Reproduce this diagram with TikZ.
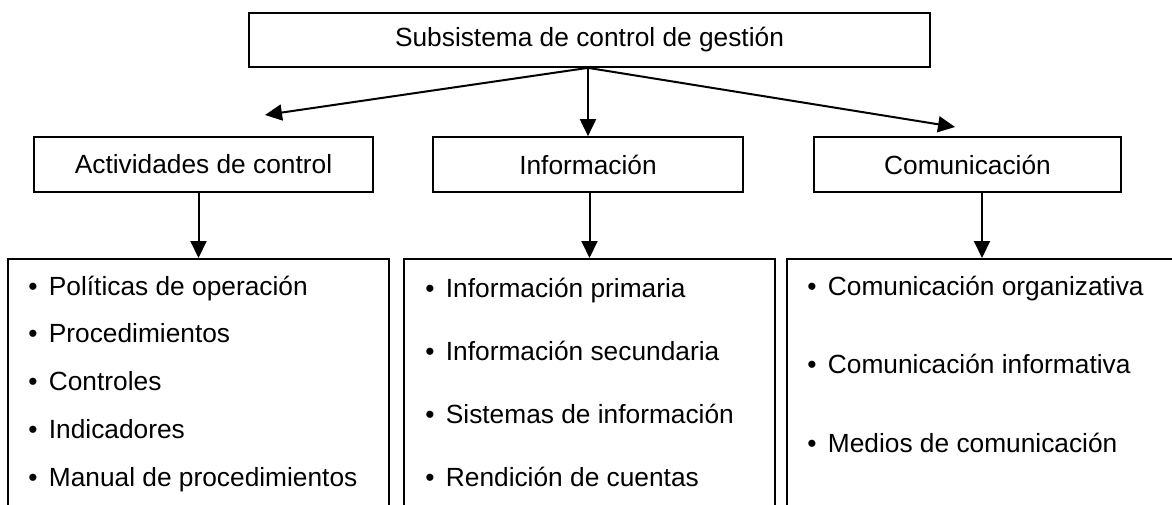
\documentclass[tikz,border=0pt]{standalone}
\usepackage{fontspec}
\setmainfont{Liberation Sans}
\usetikzlibrary{arrows.meta}

\newcommand{\itembul}{\makebox[0.78em][l]{\textbullet}}

\tikzset{
  box/.style={draw, line width=0.85pt, inner sep=0pt},
  item/.style={anchor=base west, inner sep=0pt},
  arr/.style={line width=1pt, -{Triangle[length=8.5pt,width=8pt]}}
}

\begin{document}
\begin{tikzpicture}[x=0.5pt, y=-0.5pt, font=\fontsize{13.15}{16}\selectfont]
  \useasboundingbox (0,0) rectangle (1172,504);

  % top box
  \node[box, minimum width=340.5pt, minimum height=27pt] (sub) at (589.5,40)
    {Subsistema de control de gestión};

  % middle row
  \begin{scope}[every node/.style={box, minimum height=27.5pt}]
    \node[minimum width=169.5pt] (act)  at (203.5,164.5) {Actividades de control};
    \node[minimum width=155pt]   (info) at (588,164.5)   {Información};
    \node[minimum width=153.5pt] (com)  at (967.5,164.5) {Comunicación};
  \end{scope}

  % lower boxes (run past the page edge)
  \begin{scope}[every node/.style={box, anchor=north, minimum height=130pt}]
    \node[minimum width=190.5pt] (actlist)  at (198.5,258) {};
    \node[minimum width=185.5pt] (infolist) at (589.5,258) {};
    \node[minimum width=195pt]   (comlist)  at (982,258)   {};
  \end{scope}

  % arrows
  \coordinate (fork) at (sub.south -| info.north);
  \coordinate (actend) at (265,115);
  \coordinate (comend) at (955,127);

  \draw[arr] (fork) -- (actend);
  \draw[arr] (fork) -- (info.north);
  \draw[arr] (fork) -- (comend);

  \draw[arr] (act.south -| actlist.north) -- (actlist.north);
  \draw[arr] (info.south -| infolist.north) -- (infolist.north);
  \draw[arr] (com.south -| comlist.north) -- (comlist.north);

  % items
  \foreach \txt [count=\i from 0] in {Políticas de operación, Procedimientos,
      Controles, Indicadores, Manual de procedimientos}
    \node[item] (act-\i) at (28,{295+47.75*\i}) {\itembul\txt};

  \foreach \txt [count=\i from 0] in {Información primaria,
      Información secundaria, Sistemas de información, Rendición de cuentas}
    \node[item] (info-\i) at (425,{297+63*\i}) {\itembul\txt};

  \foreach \txt [count=\i from 0] in {Comunicación organizativa,
      Comunicación informativa, Medios de comunicación}
    \node[item] (com-\i) at (807,{295+78.5*\i}) {\itembul\txt};
\end{tikzpicture}
\end{document}
